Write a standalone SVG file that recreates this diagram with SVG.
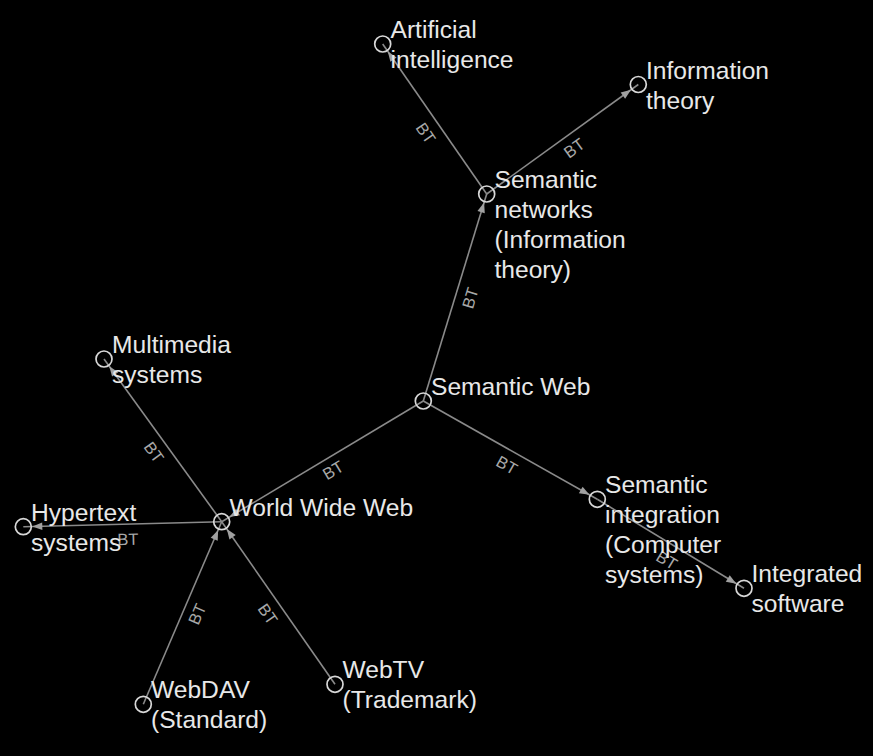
<svg xmlns="http://www.w3.org/2000/svg" width="873" height="756" viewBox="0 0 873 756">
<defs>
<style>
.node circle{fill:none;stroke:#d8d8d8;stroke-width:1.7}
.node text{font-family:"Liberation Sans",Arial,Helvetica,sans-serif;font-size:24.6px;fill:#e8e8e8}
.edge line{stroke:#8a8a8a;stroke-width:1.6}
.elabel{font-family:"Liberation Sans",Arial,Helvetica,sans-serif;font-size:16.5px;fill:#a8a8a8;text-anchor:middle}
</style>
<marker id="arr" markerUnits="userSpaceOnUse" viewBox="-20 -5 22 10" markerWidth="22" markerHeight="10" refX="0" refY="0" orient="auto">
<path d="M-19,-3.8 L-9,0 L-19,3.8 Z" fill="#a0a0a0"/>
</marker>
</defs>
<rect width="873" height="756" fill="#000"/>
<g id="connectors">
<g class="edge"><line x1="486.7" y1="194" x2="382.7" y2="44" marker-end="url(#arr)"/><text class="elabel" transform="translate(426,133) rotate(55.3)" dy="6">BT</text></g>
<g class="edge"><line x1="486.7" y1="194" x2="638.3" y2="84.5" marker-end="url(#arr)"/><text class="elabel" transform="translate(574,148) rotate(-35.8)" dy="6">BT</text></g>
<g class="edge"><line x1="423.3" y1="401" x2="486.7" y2="194" marker-end="url(#arr)"/><text class="elabel" transform="translate(470,298) rotate(-73)" dy="6">BT</text></g>
<g class="edge"><line x1="423.3" y1="401" x2="221.7" y2="521.7" marker-end="url(#arr)"/><text class="elabel" transform="translate(333,470) rotate(-30.9)" dy="6">BT</text></g>
<g class="edge"><line x1="423.3" y1="401" x2="597.3" y2="499.3" marker-end="url(#arr)"/><text class="elabel" transform="translate(507,465) rotate(29.5)" dy="6">BT</text></g>
<g class="edge"><line x1="597.3" y1="499.3" x2="744" y2="588.3" marker-end="url(#arr)"/><text class="elabel" transform="translate(667,560) rotate(31.2)" dy="6">BT</text></g>
<g class="edge"><line x1="221.7" y1="521.7" x2="104" y2="359" marker-end="url(#arr)"/><text class="elabel" transform="translate(154,452) rotate(54.1)" dy="6">BT</text></g>
<g class="edge"><line x1="221.7" y1="521.7" x2="23.3" y2="526.7" marker-end="url(#arr)"/><text class="elabel" transform="translate(128,539) rotate(-1.4)" dy="6">BT</text></g>
<g class="edge"><line x1="143.3" y1="704.3" x2="221.7" y2="521.7" marker-end="url(#arr)"/><text class="elabel" transform="translate(197,614) rotate(-66.8)" dy="6">BT</text></g>
<g class="edge"><line x1="335" y1="684.3" x2="221.7" y2="521.7" marker-end="url(#arr)"/><text class="elabel" transform="translate(268,614) rotate(55.1)" dy="6">BT</text></g>
</g>
<g id="n-ai" class="node"><circle cx="382.7" cy="44" r="8"/><text x="390.5" y="38">Artificial<tspan x="390.5" dy="30">intelligence</tspan></text></g>
<g id="n-it" class="node"><circle cx="638.3" cy="84.5" r="8"/><text x="646" y="78.5">Information<tspan x="646" dy="30">theory</tspan></text></g>
<g id="n-sn" class="node"><circle cx="486.7" cy="194" r="8"/><text x="494.5" y="188">Semantic<tspan x="494.5" dy="30">networks</tspan><tspan x="494.5" dy="30">(Information</tspan><tspan x="494.5" dy="30">theory)</tspan></text></g>
<g id="n-sw" class="node"><circle cx="423.3" cy="401" r="8"/><text x="431" y="395">Semantic Web</text></g>
<g id="n-mm" class="node"><circle cx="104" cy="359" r="8"/><text x="112" y="353">Multimedia<tspan x="112" dy="30">systems</tspan></text></g>
<g id="n-www" class="node"><circle cx="221.7" cy="521.7" r="8"/><text x="229.5" y="515.7">World Wide Web</text></g>
<g id="n-hs" class="node"><circle cx="23.3" cy="526.7" r="8"/><text x="31" y="520.7">Hypertext<tspan x="31" dy="30">systems</tspan></text></g>
<g id="n-dav" class="node"><circle cx="143.3" cy="704.3" r="8"/><text x="151" y="698.3">WebDAV<tspan x="151" dy="30">(Standard)</tspan></text></g>
<g id="n-tv" class="node"><circle cx="335" cy="684.3" r="8"/><text x="342.5" y="678.3">WebTV<tspan x="342.5" dy="30">(Trademark)</tspan></text></g>
<g id="n-si" class="node"><circle cx="597.3" cy="499.3" r="8"/><text x="605" y="493.3">Semantic<tspan x="605" dy="30">integration</tspan><tspan x="605" dy="30">(Computer</tspan><tspan x="605" dy="30">systems)</tspan></text></g>
<g id="n-is" class="node"><circle cx="744" cy="588.3" r="8"/><text x="751.5" y="582.3">Integrated<tspan x="751.5" dy="30">software</tspan></text></g>
</svg>
